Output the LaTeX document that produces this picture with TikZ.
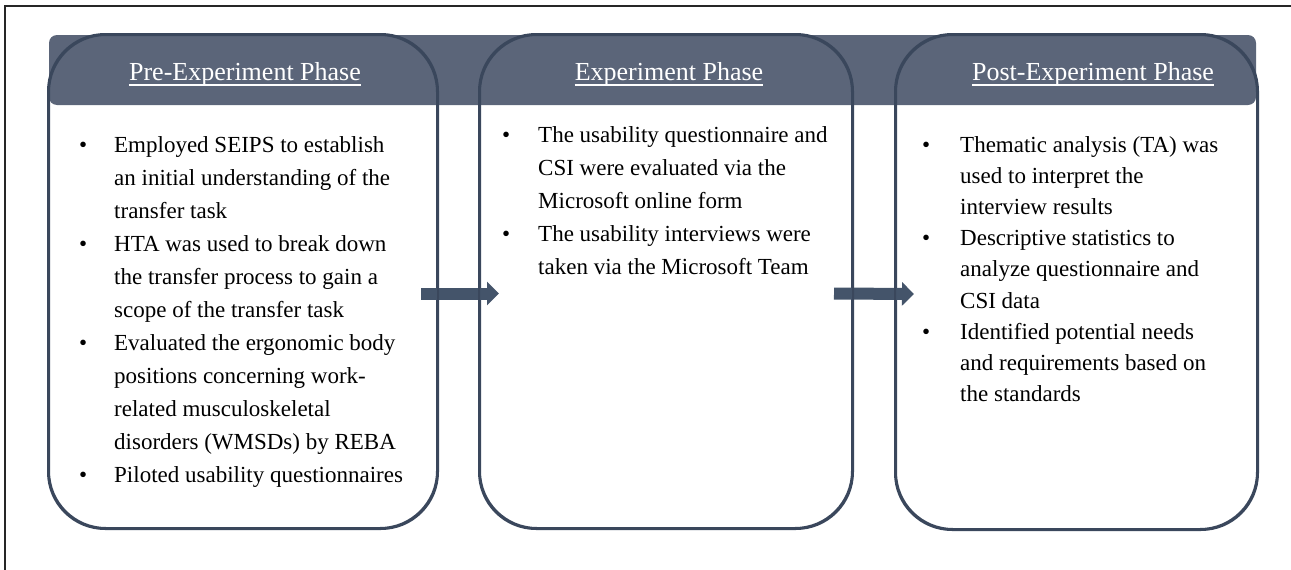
\documentclass[tikz,border=0pt]{standalone}
\usepackage{fontspec}
\setmainfont{Liberation Serif}
\usepackage{array}
\usetikzlibrary{calc,arrows.meta}
\definecolor{bannerc}{HTML}{5B6579}
\definecolor{boxline}{HTML}{3A475C}
\definecolor{arrowc}{HTML}{44546A}
\tikzset{
  phasebox/.style={draw=boxline, line width=2pt, rounded corners=57pt, inner sep=0pt},
  phasetitle/.style={text=white, font=\fontsize{26}{30}\selectfont, inner sep=0pt, anchor=base},
  bodytext/.style={font=\fontsize{23}{33}\selectfont, inner sep=0pt, anchor=base west},
  blockarrow/.style={draw=arrowc, line width=12pt, -{Triangle[width=23pt,length=12pt]}},
  uline/.style={draw=white, line width=1.3pt},
}
\begin{document}
\begin{tikzpicture}[x=1pt,y=-1pt]
\useasboundingbox (0,0) rectangle (1291,570);
% frame
\draw[line width=1.2pt, black!85] (5,570) -- (5,6) -- (1291,6);
% banner
\node[fill=bannerc, rounded corners=8pt, minimum width=1207pt, minimum height=70pt, inner sep=0pt] (banner) at (652.5,70) {};
% boxes
\node[phasebox, minimum width=388pt, minimum height=493pt] (p1) at (243,281.5) {};
\node[phasebox, minimum width=372pt, minimum height=493pt] (p2) at (666,281.5) {};
\node[phasebox, minimum width=361pt, minimum height=494pt] (p3) at (1076.5,282) {};
% arrows
\draw[blockarrow] ($(p1.east)+(-17,12)$) -- ($(p2.west)+(20,12)$);
\draw[blockarrow] ($(p2.east)+(-19,12)$) -- ($(p3.west)+(19,12)$);
% redraw box outlines on top
\draw[draw=boxline, line width=2pt, rounded corners=57pt] (p1.north west) rectangle (p1.south east);
\draw[draw=boxline, line width=2pt, rounded corners=57pt] (p2.north west) rectangle (p2.south east);
\draw[draw=boxline, line width=2pt, rounded corners=57pt] (p3.north west) rectangle (p3.south east);
% titles
\node[phasetitle] (t1) at (245,80.5) {Pre-Experiment Phase};
\node[phasetitle] (t2) at (669,80.5) {Experiment Phase};
\node[phasetitle] (t3) at (1093,80.5) {Post-Experiment Phase};
\foreach \t in {t1,t2,t3}{
  \draw[uline] ([yshift=-4.5pt]\t.base west) -- ([yshift=-4.5pt]\t.base east);
}
% body text
\node[bodytext] (b1) at (79,152) {\begin{tabular}[t]{@{}p{35pt}@{}l@{}}
\textbullet & Employed SEIPS to establish\\
 & an initial understanding of the\\
 & transfer task\\
\textbullet & HTA was used to break down\\
 & the transfer process to gain a\\
 & scope of the transfer task\\
\textbullet & Evaluated the ergonomic body\\
 & positions concerning work-\\
 & related musculoskeletal\\
 & disorders (WMSDs) by REBA\\
\textbullet & Piloted usability questionnaires
\end{tabular}};
\node[bodytext] (b2) at (502,142) {\begin{tabular}[t]{@{}p{36pt}@{}l@{}}
\textbullet & The usability questionnaire and\\
 & CSI were evaluated via the\\
 & Microsoft online form\\
\textbullet & The usability interviews were\\
 & taken via the Microsoft Team
\end{tabular}};
\node[bodytext, font=\fontsize{23}{31.2}\selectfont] (b3) at (922,152) {\begin{tabular}[t]{@{}p{38pt}@{}l@{}}
\textbullet & Thematic analysis (TA) was\\
 & used to interpret the\\
 & interview results\\
\textbullet & Descriptive statistics to\\
 & analyze questionnaire and\\
 & CSI data\\
\textbullet & Identified potential needs\\
 & and requirements based on\\
 & the standards
\end{tabular}};
\end{tikzpicture}
\end{document}
